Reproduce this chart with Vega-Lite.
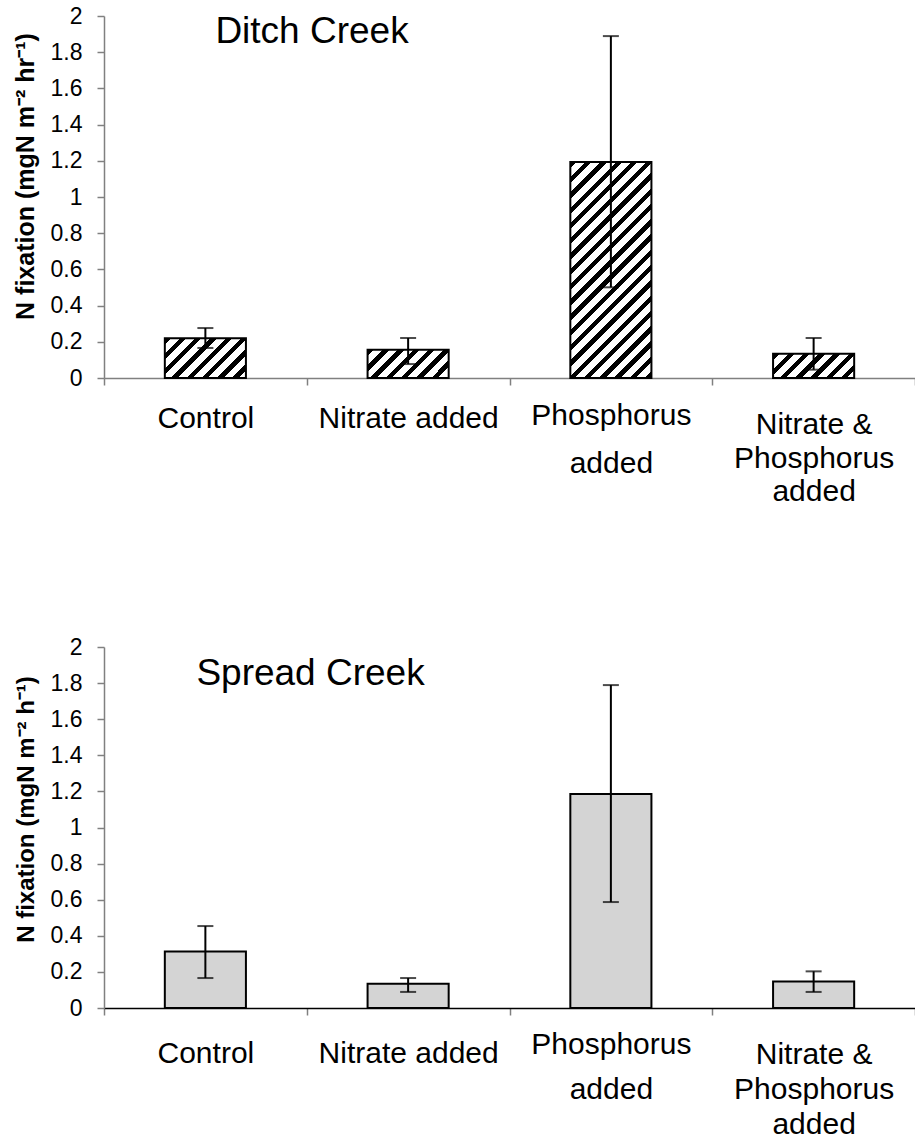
{
  "$schema": "https://vega.github.io/schema/vega-lite/v6.json",
  "background": "white",
  "padding": {"left": 13, "top": 5, "right": 0, "bottom": 0},
  "config": {
    "font": "Liberation Sans",
    "view": {"stroke": null},
    "axis": {"grid": false, "labelFont": "Liberation Sans", "titleFont": "Liberation Sans", "labelColor": "black", "titleColor": "black"},
    "axisY": {
      "labelFontSize": 23,
      "labelPadding": 15,
      "labelOverlap": false,
      "tickCount": 20,
      "tickSize": 7,
      "tickColor": "#808080",
      "tickWidth": 1.5,
      "domainColor": "#808080",
      "domainWidth": 1.5,
      "titleFontWeight": "bold",
      "titlePadding": 12
    }
  },
  "datasets": {
    "rates": [
      {"site": "Ditch Creek", "treatment": "Control", "mean": 0.22, "lower": 0.166, "upper": 0.276},
      {"site": "Ditch Creek", "treatment": "Nitrate added", "mean": 0.156, "lower": 0.077, "upper": 0.221},
      {"site": "Ditch Creek", "treatment": "Phosphorus added", "mean": 1.194, "lower": 0.501, "upper": 1.889},
      {"site": "Ditch Creek", "treatment": "Nitrate & Phosphorus added", "mean": 0.134, "lower": 0.046, "upper": 0.221},
      {"site": "Spread Creek", "treatment": "Control", "mean": 0.313, "lower": 0.166, "upper": 0.454},
      {"site": "Spread Creek", "treatment": "Nitrate added", "mean": 0.134, "lower": 0.089, "upper": 0.166},
      {"site": "Spread Creek", "treatment": "Phosphorus added", "mean": 1.186, "lower": 0.587, "upper": 1.789},
      {"site": "Spread Creek", "treatment": "Nitrate & Phosphorus added", "mean": 0.147, "lower": 0.089, "upper": 0.203}
    ]
  },
  "bounds": "flush",
  "spacing": 269,
  "vconcat": [
    {
      "width": 811,
      "height": 362,
      "data": {"name": "rates"},
      "transform": [{"filter": "datum.site === 'Ditch Creek'"}],
      "encoding": {
        "x": {
          "field": "treatment",
          "type": "nominal",
          "sort": ["Control", "Nitrate added", "Phosphorus added", "Nitrate & Phosphorus added"],
          "scale": {"paddingInner": 0, "paddingOuter": 0},
          "axis": {
            "title": null,
            "labelAngle": 0,
            "tickBand": "extent",
            "tickSize": 7,
            "tickColor": "#808080",
            "tickWidth": 1.5,
            "domainColor": "#808080",
            "domainWidth": 1.5,
            "labelFontSize": 30,
            "labelPadding": 18.5,
            "labelLimit": 0,
            "labelOverlap": false,
            "labelLineHeight": 34,
            "labelExpr": "datum.value == 'Phosphorus added' ? ['Phosphorus', 'added'] : datum.value == 'Nitrate & Phosphorus added' ? ['Nitrate &', 'Phosphorus', 'added'] : datum.value",
            "encoding": {
              "labels": {
                "dy": {"value": {"expr": "datum.value == 'Phosphorus added' ? -3.4 : datum.value == 'Nitrate & Phosphorus added' ? 6.3 : 0"}},
                "lineHeight": {"value": {"expr": "datum.value == 'Phosphorus added' ? 48 : 33.5"}}
              }
            }
          }
        },
        "y": {
          "field": "mean",
          "type": "quantitative",
          "title": "N fixation (mgN m⁻² hr⁻¹)",
          "scale": {"domain": [0, 2], "nice": false},
          "axis": {"values": [0, 0.2, 0.4, 0.6, 0.8, 1, 1.2, 1.4, 1.6, 1.8, 2], "format": "~g", "titleFontSize": 25, "titleY": 160}
        }
      },
      "layer": [
        {
          "mark": {"type": "bar", "width": {"band": 0.4}, "stroke": "black", "strokeWidth": 2},
          "encoding": {
            "fill": {
              "condition": [
                {"test": "datum.treatment === 'Control'", "value": {"gradient": "linear", "x1": 0, "y1": 0, "x2": 1.2014, "y2": 0.5896, "stops": [
                  {"offset": 0, "color": "black"}, {"offset": 0.0531, "color": "black"}, {"offset": 0.0531, "color": "white"}, {"offset": 0.1263, "color": "white"},
                  {"offset": 0.1263, "color": "black"}, {"offset": 0.1794, "color": "black"}, {"offset": 0.1794, "color": "white"}, {"offset": 0.2527, "color": "white"},
                  {"offset": 0.2527, "color": "black"}, {"offset": 0.3057, "color": "black"}, {"offset": 0.3057, "color": "white"}, {"offset": 0.379, "color": "white"},
                  {"offset": 0.379, "color": "black"}, {"offset": 0.4321, "color": "black"}, {"offset": 0.4321, "color": "white"}, {"offset": 0.5053, "color": "white"},
                  {"offset": 0.5053, "color": "black"}, {"offset": 0.5584, "color": "black"}, {"offset": 0.5584, "color": "white"}, {"offset": 0.6317, "color": "white"},
                  {"offset": 0.6317, "color": "black"}, {"offset": 0.6847, "color": "black"}, {"offset": 0.6847, "color": "white"}, {"offset": 0.758, "color": "white"},
                  {"offset": 0.758, "color": "black"}, {"offset": 0.811, "color": "black"}, {"offset": 0.811, "color": "white"}, {"offset": 0.8843, "color": "white"},
                  {"offset": 0.8843, "color": "black"}, {"offset": 0.9374, "color": "black"}, {"offset": 0.9374, "color": "white"}, {"offset": 1, "color": "white"}
                ]}},
                {"test": "datum.treatment === 'Nitrate added'", "value": {"gradient": "linear", "x1": 0, "y1": 0, "x2": 1.2023, "y2": 0.4181, "stops": [
                  {"offset": 0, "color": "black"}, {"offset": 0.0587, "color": "black"}, {"offset": 0.0587, "color": "white"}, {"offset": 0.1397, "color": "white"},
                  {"offset": 0.1397, "color": "black"}, {"offset": 0.1984, "color": "black"}, {"offset": 0.1984, "color": "white"}, {"offset": 0.2795, "color": "white"},
                  {"offset": 0.2795, "color": "black"}, {"offset": 0.3382, "color": "black"}, {"offset": 0.3382, "color": "white"}, {"offset": 0.4192, "color": "white"},
                  {"offset": 0.4192, "color": "black"}, {"offset": 0.4779, "color": "black"}, {"offset": 0.4779, "color": "white"}, {"offset": 0.5589, "color": "white"},
                  {"offset": 0.5589, "color": "black"}, {"offset": 0.6176, "color": "black"}, {"offset": 0.6176, "color": "white"}, {"offset": 0.6987, "color": "white"},
                  {"offset": 0.6987, "color": "black"}, {"offset": 0.7573, "color": "black"}, {"offset": 0.7573, "color": "white"}, {"offset": 0.8384, "color": "white"},
                  {"offset": 0.8384, "color": "black"}, {"offset": 0.8971, "color": "black"}, {"offset": 0.8971, "color": "white"}, {"offset": 0.9781, "color": "white"},
                  {"offset": 0.9781, "color": "black"}, {"offset": 1, "color": "black"}
                ]}},
                {"test": "datum.treatment === 'Phosphorus added'", "value": {"gradient": "linear", "x1": 0, "y1": 0, "x2": 0.4524, "y2": 1.2056, "stops": [
                  {"offset": 0, "color": "black"}, {"offset": 0.0216, "color": "black"}, {"offset": 0.0216, "color": "white"}, {"offset": 0.0514, "color": "white"},
                  {"offset": 0.0514, "color": "black"}, {"offset": 0.073, "color": "black"}, {"offset": 0.073, "color": "white"}, {"offset": 0.1028, "color": "white"},
                  {"offset": 0.1028, "color": "black"}, {"offset": 0.1244, "color": "black"}, {"offset": 0.1244, "color": "white"}, {"offset": 0.1542, "color": "white"},
                  {"offset": 0.1542, "color": "black"}, {"offset": 0.1758, "color": "black"}, {"offset": 0.1758, "color": "white"}, {"offset": 0.2056, "color": "white"},
                  {"offset": 0.2056, "color": "black"}, {"offset": 0.2272, "color": "black"}, {"offset": 0.2272, "color": "white"}, {"offset": 0.257, "color": "white"},
                  {"offset": 0.257, "color": "black"}, {"offset": 0.2785, "color": "black"}, {"offset": 0.2785, "color": "white"}, {"offset": 0.3084, "color": "white"},
                  {"offset": 0.3084, "color": "black"}, {"offset": 0.3299, "color": "black"}, {"offset": 0.3299, "color": "white"}, {"offset": 0.3597, "color": "white"},
                  {"offset": 0.3597, "color": "black"}, {"offset": 0.3813, "color": "black"}, {"offset": 0.3813, "color": "white"}, {"offset": 0.4111, "color": "white"},
                  {"offset": 0.4111, "color": "black"}, {"offset": 0.4327, "color": "black"}, {"offset": 0.4327, "color": "white"}, {"offset": 0.4625, "color": "white"},
                  {"offset": 0.4625, "color": "black"}, {"offset": 0.4841, "color": "black"}, {"offset": 0.4841, "color": "white"}, {"offset": 0.5139, "color": "white"},
                  {"offset": 0.5139, "color": "black"}, {"offset": 0.5355, "color": "black"}, {"offset": 0.5355, "color": "white"}, {"offset": 0.5653, "color": "white"},
                  {"offset": 0.5653, "color": "black"}, {"offset": 0.5869, "color": "black"}, {"offset": 0.5869, "color": "white"}, {"offset": 0.6167, "color": "white"},
                  {"offset": 0.6167, "color": "black"}, {"offset": 0.6383, "color": "black"}, {"offset": 0.6383, "color": "white"}, {"offset": 0.6681, "color": "white"},
                  {"offset": 0.6681, "color": "black"}, {"offset": 0.6897, "color": "black"}, {"offset": 0.6897, "color": "white"}, {"offset": 0.7195, "color": "white"},
                  {"offset": 0.7195, "color": "black"}, {"offset": 0.7411, "color": "black"}, {"offset": 0.7411, "color": "white"}, {"offset": 0.7709, "color": "white"},
                  {"offset": 0.7709, "color": "black"}, {"offset": 0.7925, "color": "black"}, {"offset": 0.7925, "color": "white"}, {"offset": 0.8223, "color": "white"},
                  {"offset": 0.8223, "color": "black"}, {"offset": 0.8439, "color": "black"}, {"offset": 0.8439, "color": "white"}, {"offset": 0.8737, "color": "white"},
                  {"offset": 0.8737, "color": "black"}, {"offset": 0.8952, "color": "black"}, {"offset": 0.8952, "color": "white"}, {"offset": 0.9251, "color": "white"},
                  {"offset": 0.9251, "color": "black"}, {"offset": 0.9466, "color": "black"}, {"offset": 0.9466, "color": "white"}, {"offset": 0.9764, "color": "white"},
                  {"offset": 0.9764, "color": "black"}, {"offset": 0.998, "color": "black"}, {"offset": 0.998, "color": "white"}, {"offset": 1, "color": "white"}
                ]}},
                {"test": "datum.treatment === 'Nitrate & Phosphorus added'", "value": {"gradient": "linear", "x1": 0, "y1": 0, "x2": 1.1926, "y2": 0.3573, "stops": [
                  {"offset": 0, "color": "black"}, {"offset": 0.0609, "color": "black"}, {"offset": 0.0609, "color": "white"}, {"offset": 0.1449, "color": "white"},
                  {"offset": 0.1449, "color": "black"}, {"offset": 0.2058, "color": "black"}, {"offset": 0.2058, "color": "white"}, {"offset": 0.2898, "color": "white"},
                  {"offset": 0.2898, "color": "black"}, {"offset": 0.3507, "color": "black"}, {"offset": 0.3507, "color": "white"}, {"offset": 0.4347, "color": "white"},
                  {"offset": 0.4347, "color": "black"}, {"offset": 0.4956, "color": "black"}, {"offset": 0.4956, "color": "white"}, {"offset": 0.5796, "color": "white"},
                  {"offset": 0.5796, "color": "black"}, {"offset": 0.6405, "color": "black"}, {"offset": 0.6405, "color": "white"}, {"offset": 0.7246, "color": "white"},
                  {"offset": 0.7246, "color": "black"}, {"offset": 0.7854, "color": "black"}, {"offset": 0.7854, "color": "white"}, {"offset": 0.8695, "color": "white"},
                  {"offset": 0.8695, "color": "black"}, {"offset": 0.9303, "color": "black"}, {"offset": 0.9303, "color": "white"}, {"offset": 1, "color": "white"}
                ]}}
              ],
              "value": "#858585"
            }
          }
        },
        {
          "mark": {"type": "rule", "color": "black", "strokeWidth": 2},
          "encoding": {
            "y": {"field": "lower", "type": "quantitative"},
            "y2": {"field": "upper"}
          }
        },
        {
          "mark": {"type": "tick", "orient": "horizontal", "size": 16, "thickness": 2, "color": "black"},
          "encoding": {"y": {"field": "upper", "type": "quantitative"}}
        },
        {
          "mark": {"type": "tick", "orient": "horizontal", "size": 16, "thickness": 2, "color": "black"},
          "encoding": {"y": {"field": "lower", "type": "quantitative"}}
        },
        {
          "transform": [{"filter": "datum.treatment === 'Control'"}],
          "mark": {"type": "text", "align": "left", "baseline": "alphabetic", "fontSize": 37, "dx": 10, "color": "black", "font": "Liberation Sans"},
          "encoding": {
            "y": {"datum": 1.85, "type": "quantitative"},
            "text": {"field": "site"}
          }
        }
      ]
    },
    {
      "width": 811,
      "height": 361,
      "data": {"name": "rates"},
      "transform": [{"filter": "datum.site === 'Spread Creek'"}],
      "encoding": {
        "x": {
          "field": "treatment",
          "type": "nominal",
          "sort": ["Control", "Nitrate added", "Phosphorus added", "Nitrate & Phosphorus added"],
          "scale": {"paddingInner": 0, "paddingOuter": 0},
          "axis": {
            "title": null,
            "labelAngle": 0,
            "tickBand": "extent",
            "tickSize": 7,
            "tickColor": "#808080",
            "tickWidth": 1.5,
            "domainColor": "black",
            "domainWidth": 1.5,
            "labelFontSize": 30,
            "labelPadding": 23,
            "labelLimit": 0,
            "labelOverlap": false,
            "labelLineHeight": 35,
            "labelExpr": "datum.value == 'Phosphorus added' ? ['Phosphorus', 'added'] : datum.value == 'Nitrate & Phosphorus added' ? ['Nitrate &', 'Phosphorus', 'added'] : datum.value",
            "encoding": {
              "labels": {
                "dy": {"value": {"expr": "datum.value == 'Phosphorus added' ? -8.4 : datum.value == 'Nitrate & Phosphorus added' ? 1.6 : 0"}},
                "lineHeight": {"value": {"expr": "datum.value == 'Phosphorus added' ? 45 : 35"}}
              }
            }
          }
        },
        "y": {
          "field": "mean",
          "type": "quantitative",
          "title": "N fixation (mgN m⁻² h⁻¹)",
          "scale": {"domain": [0, 2], "nice": false},
          "axis": {"values": [0, 0.2, 0.4, 0.6, 0.8, 1, 1.2, 1.4, 1.6, 1.8, 2], "format": "~g", "titleFontSize": 24, "titleY": 162}
        }
      },
      "layer": [
        {
          "mark": {"type": "bar", "width": {"band": 0.4}, "fill": "#d4d4d4", "stroke": "black", "strokeWidth": 2}
        },
        {
          "mark": {"type": "rule", "color": "black", "strokeWidth": 2},
          "encoding": {
            "y": {"field": "lower", "type": "quantitative"},
            "y2": {"field": "upper"}
          }
        },
        {
          "mark": {"type": "tick", "orient": "horizontal", "size": 16, "thickness": 2, "color": "black"},
          "encoding": {"y": {"field": "upper", "type": "quantitative"}}
        },
        {
          "mark": {"type": "tick", "orient": "horizontal", "size": 16, "thickness": 2, "color": "black"},
          "encoding": {"y": {"field": "lower", "type": "quantitative"}}
        },
        {
          "transform": [{"filter": "datum.treatment === 'Control'"}],
          "mark": {"type": "text", "align": "left", "baseline": "alphabetic", "fontSize": 37, "dx": -9, "color": "black", "font": "Liberation Sans"},
          "encoding": {
            "y": {"datum": 1.79, "type": "quantitative"},
            "text": {"field": "site"}
          }
        }
      ]
    }
  ]
}
